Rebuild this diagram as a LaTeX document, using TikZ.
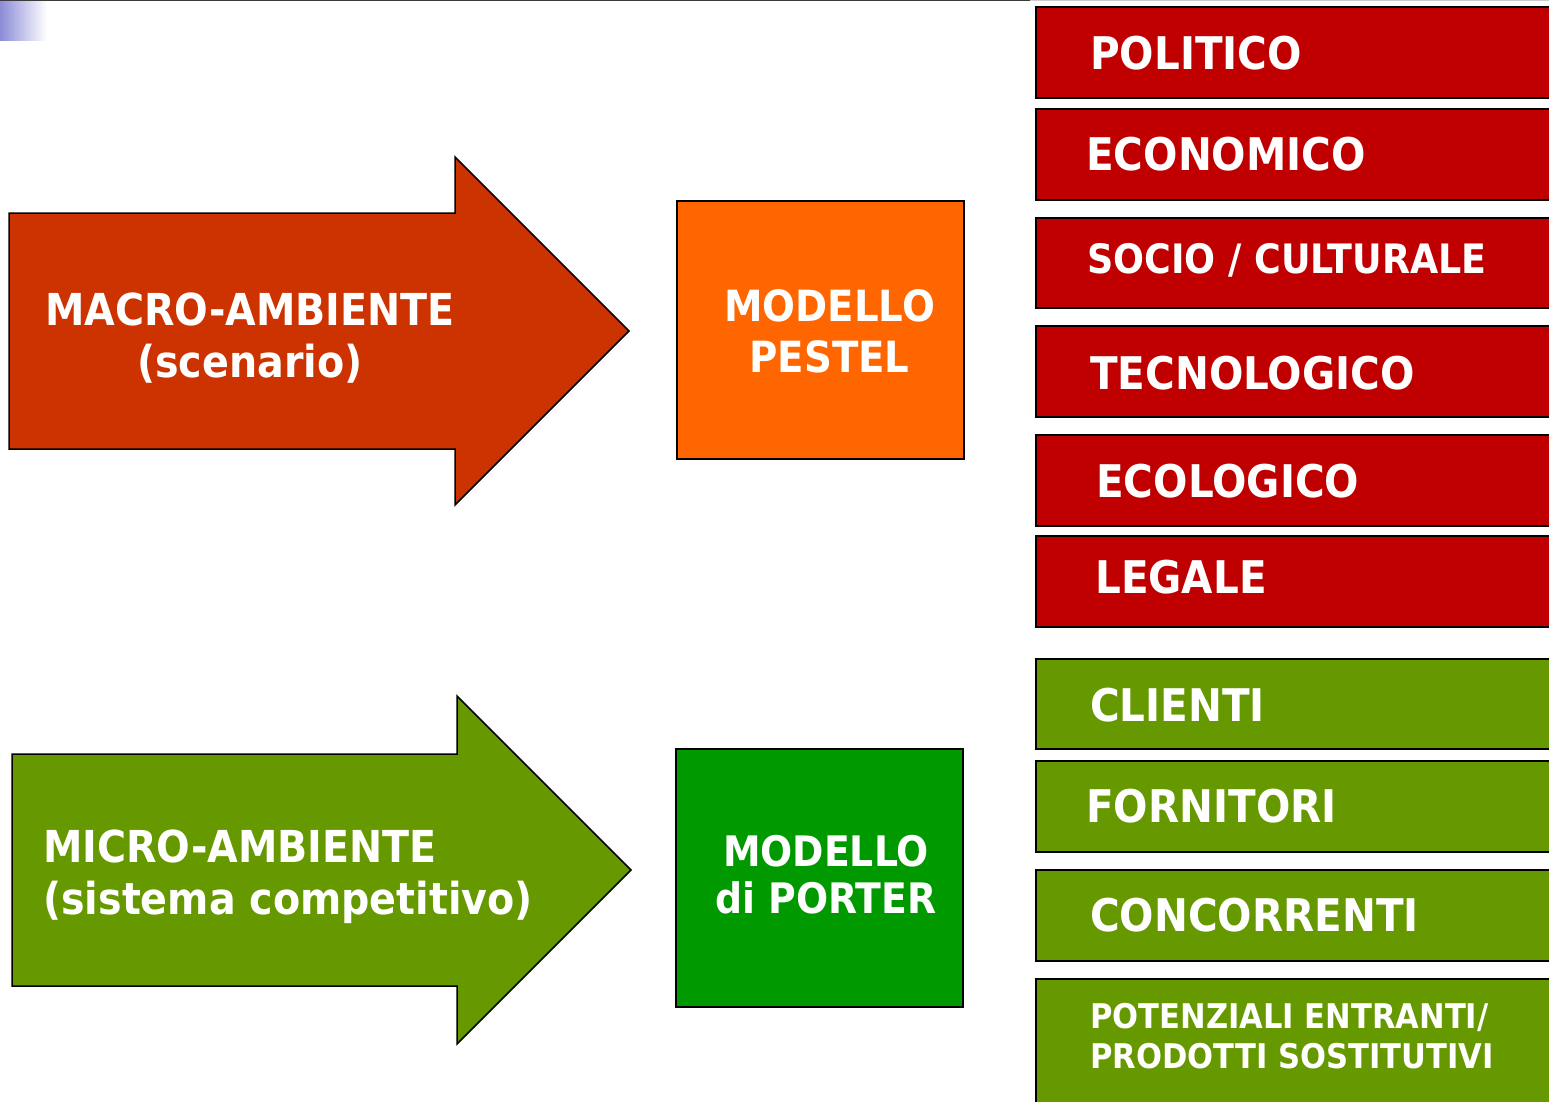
\documentclass[tikz,border=0pt]{standalone}
\usepackage{fontspec}
\setmainfont{DejaVu Sans}[FakeStretch=0.9]
\definecolor{arrowred}{HTML}{CC3300}
\definecolor{boxred}{HTML}{C00000}
\definecolor{boxorange}{HTML}{FF6600}
\definecolor{boxgreen}{HTML}{669900}
\definecolor{darkgreen}{HTML}{009900}
\definecolor{cornerblue}{RGB}{140,140,215}
\begin{document}
\begin{tikzpicture}[x=1pt,y=-1pt,
  outl/.style={draw=black, line width=1.5pt},
  listbox/.style={outl, rectangle, minimum width=514pt, minimum height=91pt, anchor=north west, inner sep=0pt},
  redbox/.style={listbox, fill=boxred},
  greenbox/.style={listbox, fill=boxgreen},
  lbl/.style={text=white, font=\bfseries\fontsize{45}{54}\selectfont, inner sep=0pt, anchor=base west},
  bigtxt/.style={text=white, font=\bfseries\fontsize{44}{52}\selectfont, inner sep=0pt},
  modelbox/.style={outl, rectangle, minimum width=287pt, minimum height=258pt, anchor=north west, inner sep=0pt},
  modeltxt/.style={text=white, align=center, inner sep=0pt, anchor=north}
]
\useasboundingbox (0,0) rectangle (1549,1101);
% top decorations
\shade[left color=cornerblue, right color=white] (0,0) rectangle (47,40);
\draw[draw={rgb,255:red,60;green,60;blue,60}, line width=1.2pt] (0,0.6) -- (1030,0.6);
\draw[draw={rgb,255:red,205;green,205;blue,205}, line width=1.2pt] (1030,0.6) -- (1549,0.6);

% big arrows
\draw[outl, fill=arrowred] (9,213) -- (455,213) -- (455,157) -- (629,331) -- (455,505) -- (455,449) -- (9,449) -- cycle;
\node[bigtxt, anchor=north, align=center] (macro) at (250,293) {MACRO-AMBIENTE\\(scenario)};

\draw[outl, fill=boxgreen] (12,754) -- (457,754) -- (457,696) -- (631,870) -- (457,1044) -- (457,986) -- (12,986) -- cycle;
\node[bigtxt, anchor=north west, align=left] (micro) at (43,830) {MICRO-AMBIENTE\\(sistema competitivo)};

% model boxes
\node[modelbox, fill=boxorange] (pestel) at (676,200) {};
\node[modeltxt, font=\bfseries\fontsize{43}{51}\selectfont] (pestelt) at (829.5,289) {MODELLO\\PESTEL};
\node[modelbox, fill=darkgreen] (porter) at (675,748) {};
\node[modeltxt, font=\bfseries\fontsize{42}{47}\selectfont] (portert) at (826,835) {MODELLO\\di PORTER};

% PESTEL list
\node[redbox] (pol) at (1035,6) {};
\node[lbl] (polt) at (1090,69) {POLITICO};
\node[redbox] (eco) at (1035,108) {};
\node[lbl] (ecot) at (1086,170) {ECONOMICO};
\node[redbox, minimum height=90pt] (soc) at (1035,217) {};
\node[lbl, font=\bfseries\fontsize{40.5}{50}\selectfont] (soct) at (1087,273) {SOCIO / CULTURALE};
\node[redbox] (tec) at (1035,325) {};
\node[lbl] (tect) at (1090,389) {TECNOLOGICO};
\node[redbox] (ecol) at (1035,434) {};
\node[lbl] (ecolt) at (1096,497) {ECOLOGICO};
\node[redbox] (leg) at (1035,535) {};
\node[lbl] (legt) at (1095,593) {LEGALE};

% Porter list
\node[greenbox, minimum height=90pt] (cli) at (1035,658) {};
\node[lbl] (clit) at (1090,721) {CLIENTI};
\node[greenbox] (for) at (1035,760) {};
\node[lbl] (fort) at (1086,822) {FORNITORI};
\node[greenbox] (con) at (1035,869) {};
\node[lbl] (cont) at (1090,931) {CONCORRENTI};
\node[greenbox, minimum height=140pt] (pot) at (1035,978) {};
\node[text=white, font=\bfseries\fontsize{34}{40}\selectfont, inner sep=0pt, anchor=north west, align=left] (pott) at (1090,1003) {POTENZIALI ENTRANTI/\\PRODOTTI SOSTITUTIVI};
\end{tikzpicture}
\end{document}
